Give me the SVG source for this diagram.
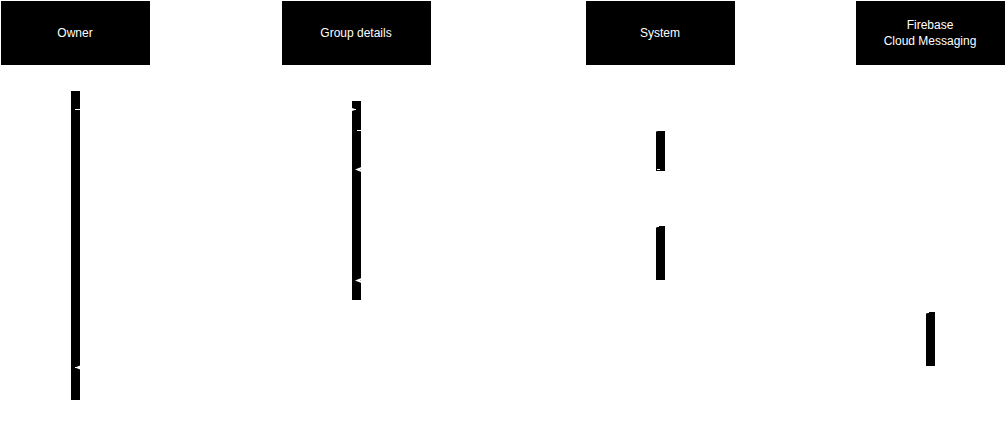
<svg xmlns="http://www.w3.org/2000/svg" width="1006" height="431" viewBox="0 0 1006 431">
<defs>
<style>
.hdr{fill:#000;stroke:#000;stroke-width:1}
.lbl{font-family:"Liberation Sans",Arial,sans-serif;font-size:12px;fill:#fff;text-anchor:middle}
.life{stroke:#fff;stroke-width:1;stroke-dasharray:3 3;fill:none}
.bar{fill:#000;stroke:#000;stroke-width:1}
.msg{stroke:#fff;stroke-width:1;fill:none}
.ret{stroke:#fff;stroke-width:1;fill:none;stroke-dasharray:3 3}
</style>
<marker id="arr" viewBox="0 0 10 10" refX="10" refY="5" markerWidth="7" markerHeight="7" orient="auto" markerUnits="userSpaceOnUse">
<path d="M0,1 L10,5 L0,9 L2,5 Z" fill="#fff"/>
</marker>
</defs>
<rect width="1006" height="431" fill="#fff"/>
<g id="lifelines">
<line class="life" x1="75" y1="64" x2="75" y2="410"/>
<line class="life" x1="356" y1="64" x2="356" y2="410"/>
<line class="life" x1="660" y1="64" x2="660" y2="410"/>
<line class="life" x1="930" y1="64" x2="930" y2="410"/>
</g>
<g id="owner">
<rect class="hdr" x="1.5" y="1.5" width="148" height="63"/>
<text class="lbl" x="75" y="37">Owner</text>
<rect class="bar" x="71.5" y="91.5" width="8" height="308"/>
</g>
<g id="group-details">
<rect class="hdr" x="282.5" y="1.5" width="148" height="63"/>
<text class="lbl" x="356" y="37">Group details</text>
<rect class="bar" x="352.5" y="101.5" width="8" height="198"/>
</g>
<g id="system">
<rect class="hdr" x="586.5" y="1.5" width="148" height="63"/>
<text class="lbl" x="660" y="37">System</text>
<rect class="bar" x="656.5" y="131.5" width="8" height="39"/>
<rect class="bar" x="656.5" y="226.5" width="8" height="53"/>
</g>
<g id="firebase">
<rect class="hdr" x="856.5" y="1.5" width="148" height="63"/>
<text class="lbl" x="930" y="29">Firebase</text>
<text class="lbl" x="930" y="45">Cloud Messaging</text>
<rect class="bar" x="926.5" y="312.5" width="8" height="53"/>
</g>
<g id="connectors">
<line class="msg" x1="75" y1="109.5" x2="356" y2="109.5" marker-end="url(#arr)"/>
<line class="msg" x1="357" y1="130.5" x2="659" y2="130.5" marker-end="url(#arr)"/>
<line class="ret" x1="660" y1="169.5" x2="355" y2="169.5" marker-end="url(#arr)"/>
<line class="msg" x1="361" y1="226.5" x2="659" y2="226.5" marker-end="url(#arr)"/>
<line class="ret" x1="660" y1="280.5" x2="355" y2="280.5" marker-end="url(#arr)"/>
<line class="msg" x1="660" y1="312.5" x2="929" y2="312.5" marker-end="url(#arr)"/>
<line class="ret" x1="930" y1="367.5" x2="75" y2="367.5" marker-end="url(#arr)"/>
</g>
</svg>
